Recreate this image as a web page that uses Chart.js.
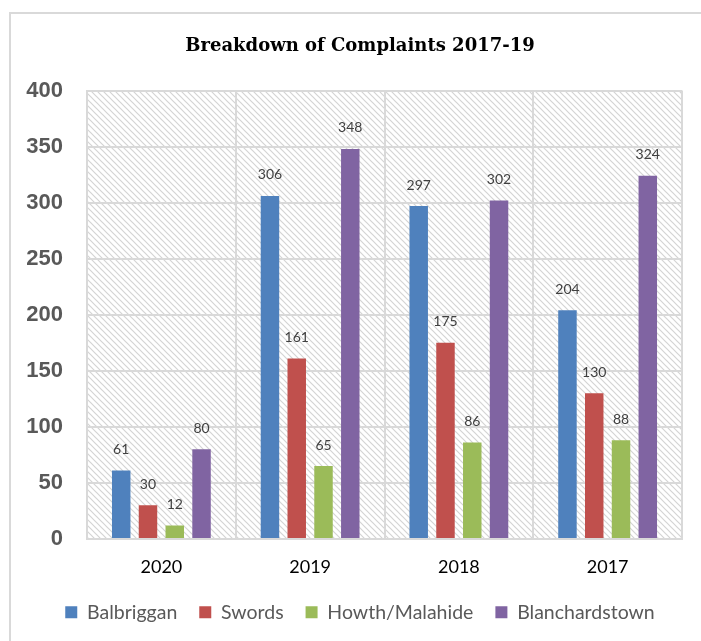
<!DOCTYPE html>
<html>
<head>
<meta charset="utf-8">
<script src="https://cdn.jsdelivr.net/npm/chart.js@4"></script>
<style>
html,body{margin:0;padding:0;background:#fff;}
#wrap{width:701px;height:641px;position:relative;}
</style>
</head>
<body>
<div id="wrap"><canvas id="c" width="701" height="641"></canvas></div>
<script>
const categories = ['2020', '2019', '2018', '2017'];
const balbriggan = [61, 306, 297, 204];
const swords = [30, 161, 175, 130];
const howthMalahide = [12, 65, 86, 88];
const blanchardstown = [80, 348, 302, 324];
const seriesNames = ['Balbriggan', 'Swords', 'Howth/Malahide', 'Blanchardstown'];
const seriesColors = ['#4F81BD', '#C0504D', '#9BBB59', '#8064A2'];
const yTicks = [0, 50, 100, 150, 200, 250, 300, 350, 400];

function makePattern(ctx) {
  const s = 6;
  const pc = document.createElement('canvas');
  pc.width = s; pc.height = s;
  const p = pc.getContext('2d');
  p.fillStyle = '#ffffff';
  p.fillRect(0, 0, s, s);
  p.strokeStyle = '#d4d4d4';
  p.lineWidth = 1.2;
  p.beginPath();
  p.moveTo(-1, -1); p.lineTo(s + 1, s + 1);
  p.moveTo(-1, s - 1); p.lineTo(1, s + 1);
  p.moveTo(s - 1, -1); p.lineTo(s + 1, 1);
  p.stroke();
  return ctx.createPattern(pc, 'repeat');
}

const bgPlugin = {
  id: 'bgPlugin',
  afterLayout(chart) {
    const dx = 9;
    if (chart.titleBlock) { chart.titleBlock.left += dx; chart.titleBlock.right += dx; }
    if (chart.legend) { chart.legend.left += dx; chart.legend.right += dx; }
  },
  beforeDraw(chart) {
    const ctx = chart.ctx;
    const a = chart.chartArea;
    ctx.save();
    ctx.fillStyle = '#ffffff';
    ctx.fillRect(0, 0, chart.width, chart.height);
    ctx.strokeStyle = '#d9d9d9';
    ctx.lineWidth = 2;
    ctx.beginPath();
    ctx.moveTo(10, 641); ctx.lineTo(10, 13); ctx.lineTo(701, 13);
    ctx.stroke();
    ctx.fillStyle = makePattern(ctx);
    ctx.fillRect(a.left, a.top, a.right - a.left, a.bottom - a.top);
    ctx.restore();
  }
};

const labelPlugin = {
  id: 'labelPlugin',
  afterDatasetsDraw(chart) {
    const ctx = chart.ctx;
    ctx.save();
    ctx.font = '14px Lato';
    ctx.fillStyle = '#404040';
    ctx.textAlign = 'center';
    ctx.textBaseline = 'middle';
    chart.data.datasets.forEach((ds, i) => {
      const meta = chart.getDatasetMeta(i);
      meta.data.forEach((bar, j) => {
        ctx.fillText(String(ds.data[j]), bar.x, bar.y - 21);
      });
    });
    ctx.restore();
  }
};

const seriesData = [balbriggan, swords, howthMalahide, blanchardstown];

new Chart(document.getElementById('c'), {
  type: 'bar',
  data: {
    labels: categories,
    datasets: seriesNames.map((n, i) => ({
      label: n,
      data: seriesData[i],
      backgroundColor: seriesColors[i],
      borderWidth: 0,
      barPercentage: 0.69,
      categoryPercentage: 0.72
    }))
  },
  options: {
    responsive: false,
    animation: false,
    devicePixelRatio: 1,
    layout: { padding: { left: 20, right: 19, top: 0, bottom: 9 } },
    plugins: {
      title: {
        display: true,
        text: 'Breakdown of Complaints 2017-19',
        font: { family: 'DejaVu Serif', size: 18, weight: 'bold' },
        color: '#000000',
        padding: { top: 36, bottom: 33 }
      },
      legend: {
        position: 'bottom',
        labels: {
          boxWidth: 12,
          boxHeight: 12,
          padding: 22,
          color: '#595959',
          font: { family: 'Lato', size: 19.5 }
        }
      },
      tooltip: { enabled: false }
    },
    scales: {
      x: {
        afterFit(scale) { scale.height = scale.height - 14; },
        grid: { color: '#d9d9d9', lineWidth: 2, drawTicks: false, offset: true },
        border: { color: '#d9d9d9', width: 2 },
        ticks: { color: '#000000', font: { family: 'Lato', size: 18 }, padding: 17 }
      },
      y: {
        min: 0,
        max: 400,
        afterBuildTicks(scale) { scale.ticks = yTicks.map(v => ({ value: v })); },
        afterFit(scale) { scale.width = 67; },
        grid: { color: '#d9d9d9', lineWidth: 2, drawTicks: false },
        border: { color: '#d9d9d9', width: 2 },
        ticks: { color: '#595959', font: { family: 'Liberation Sans', size: 22, weight: 'bold' }, padding: 24 }
      }
    }
  },
  plugins: [bgPlugin, labelPlugin]
});
</script>
</body>
</html>
